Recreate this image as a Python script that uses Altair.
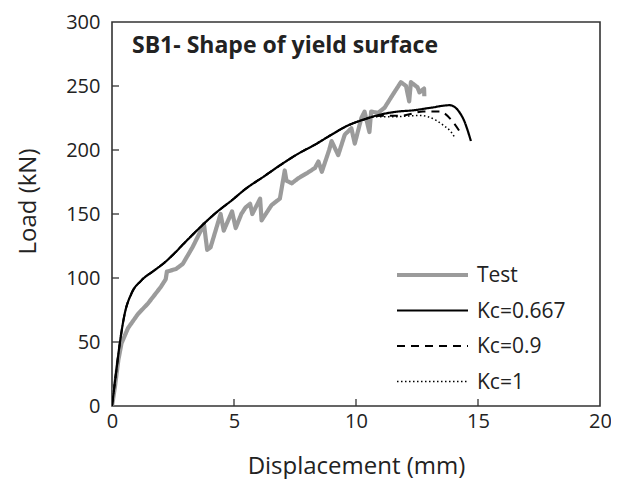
import altair as alt
import pandas as pd

# ---- data ----
test_x = [0, 0.12, 0.26, 0.39, 0.66, 1.07, 1.47, 2.0, 2.2, 2.25, 2.62, 2.9, 3.3, 3.77, 3.9, 4.04,
          4.45, 4.58, 4.92, 5.07, 5.3, 5.47, 5.66, 5.75, 6.07, 6.13, 6.54, 6.88, 7.08, 7.15, 7.37,
          7.64, 8.0, 8.32, 8.46, 8.6, 8.9, 9.0, 9.27, 9.54, 9.81, 9.95, 10.22, 10.35, 10.55, 10.62,
          10.9, 11.17, 11.5, 11.84, 12.05, 12.18, 12.25, 12.52, 12.6, 12.79, 12.8]
test_y = [0, 15, 36, 49, 61, 72, 80, 93, 99, 105, 107, 111, 124, 142, 122, 124,
          150, 137, 152, 139, 150, 155, 158, 150, 162, 145, 157, 162, 184, 176, 174,
          178, 182, 186, 191, 183, 200, 207, 196, 212, 217, 205, 225, 230, 214, 230,
          229, 233, 243, 253, 250, 238, 253, 249, 245, 248, 242]

k667_x = [0, 0.18, 0.32, 0.52, 0.8, 1.2, 1.74, 2.15, 2.49, 3.0, 3.58, 4.2, 4.93, 5.5, 6.2, 6.96,
          7.62, 8.3, 9.0, 9.65, 10.35, 10.86, 11.7, 12.35, 13.06, 13.84, 14.38, 14.71]
k667_y = [0, 28, 49, 72, 88, 98, 106, 112, 118, 128, 139, 150, 161, 170, 179, 189,
          197, 204, 212, 219, 224, 227, 230, 231, 233, 235, 225, 207]

k09_x = [0, 0.18, 0.32, 0.52, 0.8, 1.2, 1.74, 2.15, 2.49, 3.0, 3.58, 4.2, 4.93, 5.5, 6.2, 6.96,
         7.62, 8.3, 9.0, 9.65, 10.35, 10.86, 11.94, 12.75, 13.43, 13.97, 14.3]
k09_y = [0, 28, 49, 72, 88, 98, 106, 112, 118, 128, 139, 150, 161, 170, 179, 189,
         197, 204, 212, 219, 224, 226.5, 227, 230, 230, 222, 213]

k1_x = [0, 0.18, 0.32, 0.52, 0.8, 1.2, 1.74, 2.15, 2.49, 3.0, 3.58, 4.2, 4.93, 5.5, 6.2, 6.96,
        7.62, 8.3, 9.0, 9.65, 10.35, 10.86, 11.54, 12.62, 13.3, 13.57, 13.9, 14.04]
k1_y = [0, 28, 49, 72, 88, 98, 106, 112, 118, 128, 139, 150, 161, 170, 179, 189,
        197, 204, 212, 219, 224, 226, 226, 227, 223, 219.5, 214, 210]

series_names = ["Test", "Kc=0.667", "Kc=0.9", "Kc=1"]
x_ticks = [0, 5, 10, 15, 20]
y_ticks = [0, 50, 100, 150, 200, 250, 300]
chart_title = "SB1- Shape of yield surface"

# ---- build table ----
rows = []
for name, xs, ys in [("Test", test_x, test_y), ("Kc=0.667", k667_x, k667_y),
                     ("Kc=0.9", k09_x, k09_y), ("Kc=1", k1_x, k1_y)]:
    for i, (a, b) in enumerate(zip(xs, ys)):
        rows.append({"series": name, "disp": a, "load": b, "idx": i})
df = pd.DataFrame(rows)

W, H = 488, 384
FONT = "Open Sans"
TXT = "#222222"

styles = {
    "Test": dict(color="#9b9b9b", strokeWidth=4.2, strokeDash=[1, 0], interp="linear"),
    "Kc=0.667": dict(color="#000000", strokeWidth=2.2, strokeDash=[1, 0], interp="monotone"),
    "Kc=0.9": dict(color="#000000", strokeWidth=2.0, strokeDash=[8, 6], interp="monotone"),
    "Kc=1": dict(color="#000000", strokeWidth=1.5, strokeDash=[1.5, 2.5], interp="monotone"),
}

xscale = alt.Scale(domain=[0, 20], nice=False)
yscale = alt.Scale(domain=[0, 300], nice=False)

xaxis = alt.Axis(values=x_ticks, title="Displacement (mm)", ticks=False, domain=False,
                 grid=False, labelPadding=5, labelFontSize=20, labelFont=FONT,
                 labelColor=TXT, labelFlush=False, labelOverlap=False,
                 titleFont=FONT, titleFontSize=24, titleFontWeight="normal",
                 titleColor=TXT, titleY=67, titleBaseline="alphabetic")
yaxis = alt.Axis(values=y_ticks, title="Load (kN)", ticks=False, domain=False, grid=False,
                 labelPadding=12, labelFontSize=20, labelFont=FONT, labelColor=TXT,
                 labelFlush=False, labelOverlap=False,
                 titleFont=FONT, titleFontSize=24, titleFontWeight="normal", titleColor=TXT,
                 titleX=-84, titleY=179, titleBaseline="middle", titleAngle=270)

base = alt.Chart(df)

layers = []
draw_order = ["Test", "Kc=1", "Kc=0.9", "Kc=0.667"]
for k, name in enumerate(draw_order):
    st = styles[name]
    layers.append(
        base.transform_filter(alt.datum.series == name)
        .mark_line(color=st["color"], strokeWidth=st["strokeWidth"], strokeDash=st["strokeDash"],
                   strokeCap="butt", strokeJoin="round", interpolate=st["interp"], clip=True)
        .encode(
            x=alt.X("disp:Q", scale=xscale, axis=xaxis),
            y=alt.Y("load:Q", scale=yscale, axis=yaxis),
            order="idx:Q",
        )
    )

# inward tick marks
xt = alt.Chart(pd.DataFrame({"v": x_ticks[1:-1]})).mark_rule(color="#333333", strokeWidth=1.3).encode(
    x=alt.X("v:Q", scale=xscale, axis=xaxis), y=alt.value(H), y2=alt.value(H - 7))
yt = alt.Chart(pd.DataFrame({"v": y_ticks[1:-1]})).mark_rule(color="#333333", strokeWidth=1.3).encode(
    y=alt.Y("v:Q", scale=yscale, axis=yaxis), x=alt.value(0), x2=alt.value(7))

# title inside plot
title_layer = alt.Chart(alt.Data(values=[{"t": chart_title}])).mark_text(
    align="left", baseline="alphabetic", font=FONT, fontSize=23, fontWeight="bold", color=TXT
).encode(text="t:N", x=alt.value(20), y=alt.value(31))

# manual legend
leg = []
leg_x0, leg_x1, leg_y0, leg_dy = 285, 356, 253, 35.5
for i, name in enumerate(series_names):
    st = styles[name]
    yy = leg_y0 + i * leg_dy
    leg.append(alt.Chart(alt.Data(values=[{"s": name}])).mark_rule(
        color=st["color"], strokeWidth=st["strokeWidth"], strokeDash=st["strokeDash"],
        strokeCap="butt").encode(x=alt.value(leg_x0), x2=alt.value(leg_x1), y=alt.value(yy)))
    leg.append(alt.Chart(alt.Data(values=[{"s": name}])).mark_text(
        align="left", baseline="middle", font=FONT, fontSize=21, color=TXT
    ).encode(text="s:N", x=alt.value(leg_x1 + 9), y=alt.value(yy + 1)))

chart = alt.layer(*layers, xt, yt, title_layer, *leg).properties(
    width=W, height=H,
    padding={"left": 104, "top": 14, "right": 11, "bottom": 73},
    autosize=alt.AutoSizeParams(type="none"),
    background="white",
).configure_view(stroke="#333333", strokeWidth=1.6)

chart.save("out.html", embed_options={"renderer": "svg", "actions": False})
